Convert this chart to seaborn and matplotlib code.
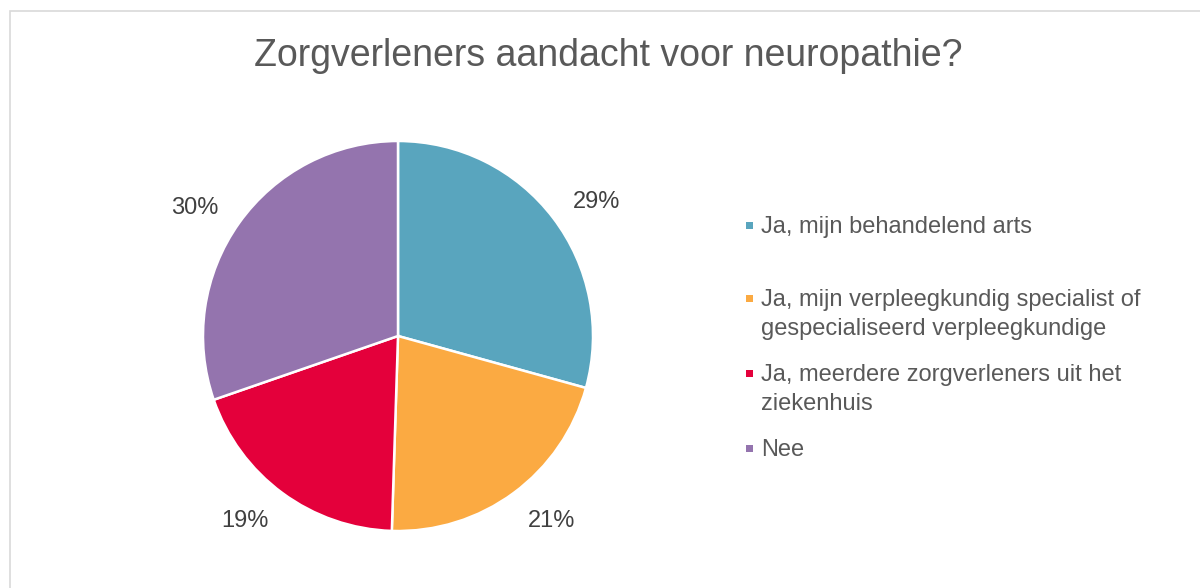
import matplotlib
matplotlib.use("Agg")
import numpy as np
import matplotlib.pyplot as plt
import matplotlib.patches as mpatches
import seaborn as sns

# data
categories = [
    "Ja, mijn behandelend arts",
    "Ja, mijn verpleegkundig specialist of\ngespecialiseerd verpleegkundige",
    "Ja, meerdere zorgverleners uit het\nziekenhuis",
    "Nee",
]
values = [29, 21, 19, 30]
colors = ["#59A5BE", "#FBAA42", "#E4003B", "#9474AE"]
title = "Zorgverleners aandacht voor neuropathie?"

sns.set_theme(style="white")
plt.rcParams["font.family"] = ["Liberation Sans", "DejaVu Sans"]

fig = plt.figure(figsize=(12, 5.88), dpi=100)
fig.patch.set_facecolor("white")

# light frame like the Excel chart area
fig.patches.append(mpatches.Rectangle((10 / 1200, -0.1), 1.2, 1.1 - 11 / 588,
                                      transform=fig.transFigure, fill=False,
                                      edgecolor="#D9D9D9", linewidth=1.2))

fig.text(608 / 1200, 1 - 66 / 588, title, ha="center", va="baseline",
         fontsize=27, color="#595959")

# pie axes: centre (398, 336) px, radius 195 px
r = 195
ax = fig.add_axes([(398 - r) / 1200, (588 - 336 - r) / 588, 2 * r / 1200, 2 * r / 588])
wedges, texts, autotexts = ax.pie(
    values, colors=colors, startangle=90, counterclock=False,
    autopct="%.0f%%", pctdistance=1.23,
    wedgeprops=dict(edgecolor="white", linewidth=1.8),
    textprops=dict(fontsize=17, color="#404040"),
)
# Excel nudges the outside labels a bit toward the horizontal
for w, t in zip(wedges, autotexts):
    ang = (w.theta1 + w.theta2) / 2
    c = np.cos(np.radians(ang))
    s = np.sin(np.radians(ang))
    ang -= 3.3 * np.sign(c) * np.sign(s)
    t.set_position((1.23 * np.cos(np.radians(ang)), 1.23 * np.sin(np.radians(ang))))
ax.set_xlim(-1, 1)
ax.set_ylim(-1, 1)
ax.set_aspect("equal")
ax.axis("off")

# legend placed by hand to follow Excel's uneven spacing
legend_y = [225, 298, 373, 448]
for cat, col, y in zip(categories, colors, legend_y):
    fig.patches.append(mpatches.Rectangle((746 / 1200, 1 - (y + 3.5) / 588), 7 / 1200, 7 / 588,
                                          transform=fig.transFigure, facecolor=col,
                                          edgecolor="none"))
    fig.text(761 / 1200, 1 - (y - 9) / 588, cat, ha="left", va="top",
             fontsize=17, color="#595959", linespacing=1.39)

fig.savefig("out.png", dpi=100, facecolor="white")
